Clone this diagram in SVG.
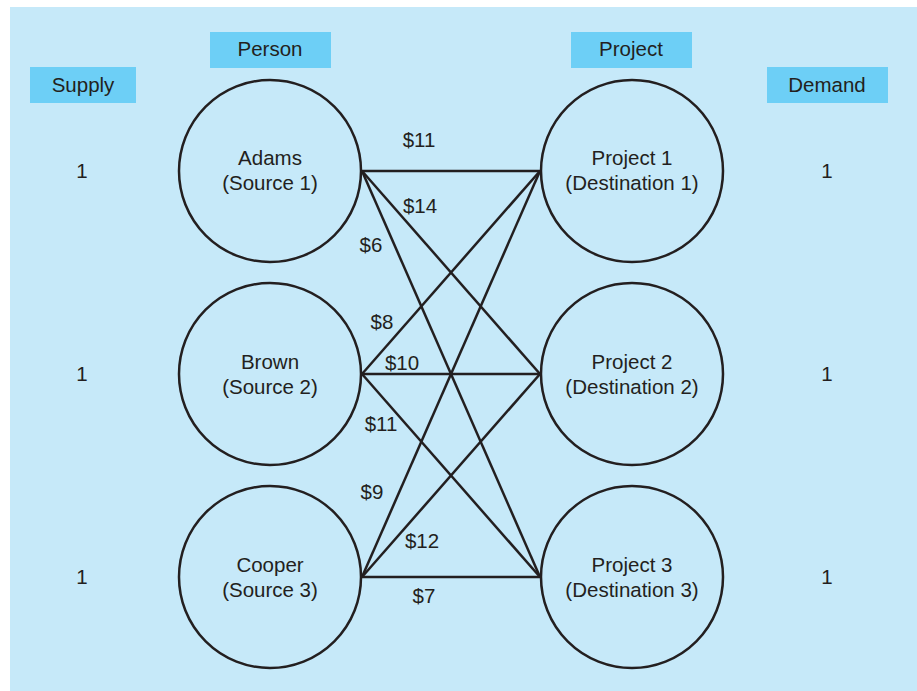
<svg xmlns="http://www.w3.org/2000/svg" width="917" height="691" viewBox="0 0 917 691">
<style>
text{font-family:"Liberation Sans",Arial,sans-serif;font-size:20.5px;fill:#231f20;text-anchor:middle;dominant-baseline:central}
.hdr{fill:#6dcff6}
.node{fill:none;stroke:#231f20;stroke-width:2.5}
.edge{stroke:#231f20;stroke-width:2.5;fill:none}
</style>
<rect x="10" y="7" width="907" height="684" fill="#c6e9f9"/>
<g id="headers">
<rect class="hdr" x="30" y="67" width="106" height="36"/><text x="83" y="84">Supply</text>
<rect class="hdr" x="210" y="32" width="121" height="36"/><text x="270" y="48">Person</text>
<rect class="hdr" x="571" y="32" width="121" height="36"/><text x="631" y="48">Project</text>
<rect class="hdr" x="767" y="67" width="121" height="36"/><text x="827" y="84">Demand</text>
</g>
<g id="connectors">
<line class="edge" x1="362" y1="171" x2="540" y2="171"/>
<line class="edge" x1="362" y1="171" x2="540" y2="374"/>
<line class="edge" x1="362" y1="171" x2="540" y2="577"/>
<line class="edge" x1="362" y1="374" x2="540" y2="171"/>
<line class="edge" x1="362" y1="374" x2="540" y2="374"/>
<line class="edge" x1="362" y1="374" x2="540" y2="577"/>
<line class="edge" x1="362" y1="577" x2="540" y2="171"/>
<line class="edge" x1="362" y1="577" x2="540" y2="374"/>
<line class="edge" x1="362" y1="577" x2="540" y2="577"/>
<text x="419" y="139">$11</text>
<text x="420" y="205">$14</text>
<text x="371" y="244">$6</text>
<text x="382" y="321">$8</text>
<text x="402" y="362">$10</text>
<text x="381" y="423">$11</text>
<text x="372" y="491">$9</text>
<text x="422" y="540">$12</text>
<text x="424" y="595">$7</text>
</g>
<g id="adams"><circle class="node" cx="270" cy="171" r="91"/><text x="270" y="157">Adams</text><text x="270" y="182">(Source 1)</text></g>
<g id="brown"><circle class="node" cx="270" cy="374" r="91"/><text x="270" y="361">Brown</text><text x="270" y="386">(Source 2)</text></g>
<g id="cooper"><circle class="node" cx="270" cy="577" r="91"/><text x="270" y="564">Cooper</text><text x="270" y="589">(Source 3)</text></g>
<g id="project1"><circle class="node" cx="632" cy="171" r="91"/><text x="632" y="157">Project 1</text><text x="632" y="182">(Destination 1)</text></g>
<g id="project2"><circle class="node" cx="632" cy="374" r="91"/><text x="632" y="361">Project 2</text><text x="632" y="386">(Destination 2)</text></g>
<g id="project3"><circle class="node" cx="632" cy="577" r="91"/><text x="632" y="564">Project 3</text><text x="632" y="589">(Destination 3)</text></g>
<g id="supply-values"><text x="82" y="170">1</text><text x="82" y="373">1</text><text x="82" y="576">1</text></g>
<g id="demand-values"><text x="827" y="170">1</text><text x="827" y="373">1</text><text x="827" y="576">1</text></g>
</svg>
